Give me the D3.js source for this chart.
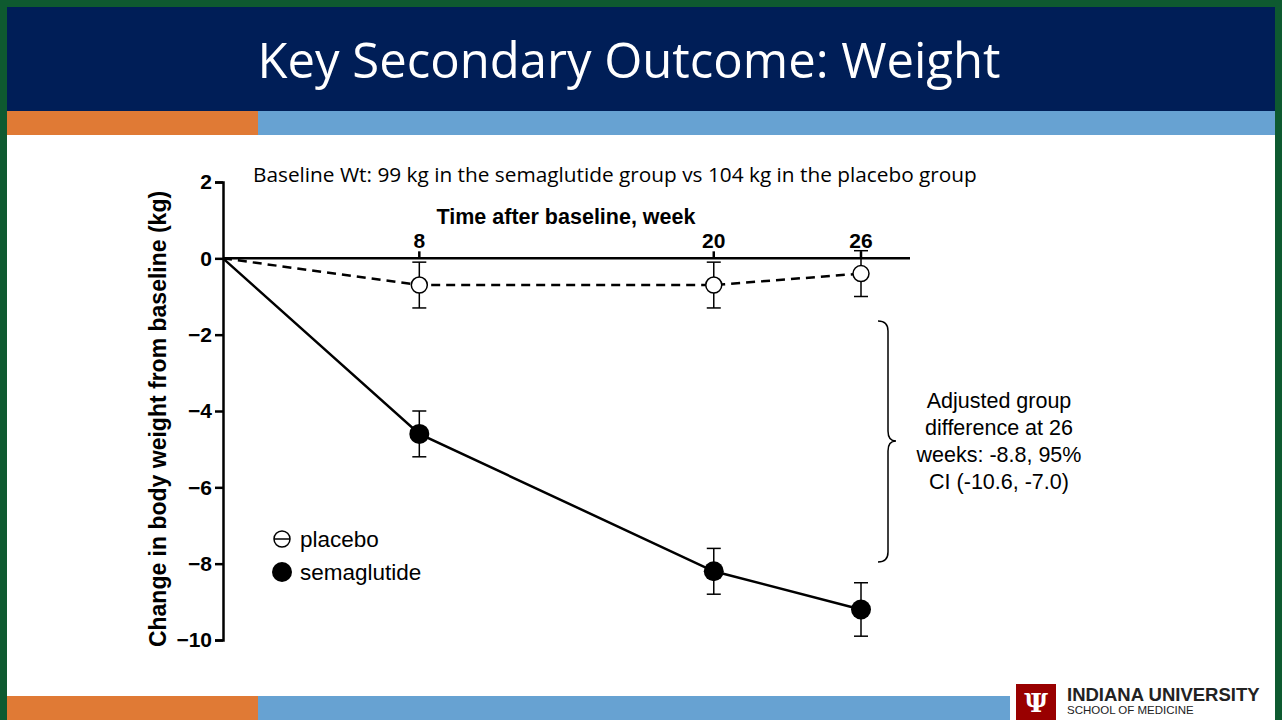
<!DOCTYPE html>
<html><head><meta charset="utf-8">
<script src="https://cdn.jsdelivr.net/npm/d3@7.9.0/dist/d3.min.js"></script>
<style>body{margin:0;background:#0e5a30}svg{display:block}</style>
</head><body><svg id="c" width="1282" height="720"></svg>
<script>
const weeks = [0, 8, 20, 26];
const placebo = [0, -0.7, -0.7, -0.4];
const placeboErr = [0, 0.6, 0.6, 0.6];
const sema = [0, -4.6, -8.2, -9.2];
const semaErr = [0, 0.6, 0.6, 0.7];
const yTicks = [2, 0, -2, -4, -6, -8, -10];
const xTicks = [8, 20, 26];

const svg = d3.select('#c');
svg.append('rect').attr('x', 7).attr('y', 7).attr('width', 1268).attr('height', 713).attr('fill', '#fff');
svg.append('rect').attr('x', 7).attr('y', 7).attr('width', 1268).attr('height', 104).attr('fill', '#001e57');
svg.append('rect').attr('x', 7).attr('y', 111).attr('width', 251).attr('height', 24).attr('fill', '#e07a35');
svg.append('rect').attr('x', 258).attr('y', 111).attr('width', 1017).attr('height', 24).attr('fill', '#67a2d2');
svg.append('rect').attr('x', 7).attr('y', 696).attr('width', 251).attr('height', 24).attr('fill', '#e07a35');
svg.append('rect').attr('x', 258).attr('y', 696).attr('width', 752).attr('height', 24).attr('fill', '#67a2d2');
svg.append('text').attr('x', 629).attr('y', 78).attr('text-anchor', 'middle')
  .attr('font-family', 'Open Sans').attr('font-size', 49).attr('fill', '#fff').text('Key Secondary Outcome: Weight');

// logo
svg.append('rect').attr('x', 1016).attr('y', 684).attr('width', 40).attr('height', 36).attr('fill', '#990000');
svg.append('text').attr('x', 1036).attr('y', 712).attr('text-anchor', 'middle').attr('font-family', 'DejaVu Serif')
  .attr('font-weight', 'bold').attr('font-size', 26).attr('fill', '#fff').text('Ψ');
svg.append('text').attr('x', 1067).attr('y', 701).attr('font-family', 'Liberation Sans').attr('font-weight', 'bold')
  .attr('font-size', 18.5).attr('fill', '#222').text('INDIANA UNIVERSITY');
svg.append('text').attr('x', 1067).attr('y', 714).attr('font-family', 'Liberation Sans')
  .attr('font-size', 11.5).attr('fill', '#222').text('SCHOOL OF MEDICINE');

const x = d3.scaleLinear().domain([0, 26]).range([223, 861]);
const y = d3.scaleLinear().domain([2, -10]).range([182, 640]);
const g = svg.append('g').attr('font-family', 'Liberation Sans');

g.append('g').attr('transform', 'translate(223,0)')
  .call(d3.axisLeft(y).tickValues(yTicks).tickSize(8).tickFormat(d3.format('d')))
  .call(a => { a.select('.domain').attr('stroke-width', 2.5); a.selectAll('line').attr('stroke-width', 2.5);
    a.selectAll('text').attr('font-size', 21).attr('font-weight', 'bold').attr('font-family', 'Liberation Sans').attr('fill', '#000'); });
g.append('line').attr('x1', 223).attr('x2', 910).attr('y1', y(0)).attr('y2', y(0)).attr('stroke', '#000').attr('stroke-width', 2.5);
xTicks.forEach(t => {
  g.append('line').attr('x1', x(t)).attr('x2', x(t)).attr('y1', y(0)).attr('y2', y(0) - 7).attr('stroke', '#000').attr('stroke-width', 2.5);
  g.append('text').attr('x', x(t)).attr('y', y(0) - 10).attr('text-anchor', 'middle').attr('font-size', 21).attr('font-weight', 'bold').text(t);
});
g.append('text').attr('x', 566).attr('y', 224).attr('text-anchor', 'middle').attr('font-size', 21.5).attr('font-weight', 'bold').text('Time after baseline, week');
g.append('text').attr('transform', 'translate(166,419) rotate(-90)').attr('text-anchor', 'middle').attr('font-size', 23).attr('font-weight', 'bold').text('Change in body weight from baseline (kg)');
g.append('text').attr('x', 253).attr('y', 182).attr('font-family', 'Open Sans').attr('font-size', 20.8).text('Baseline Wt: 99 kg in the semaglutide group vs 104 kg in the placebo group');

const line = d3.line().x((d, i) => x(weeks[i])).y(d => y(d));
g.append('path').attr('d', line(placebo)).attr('fill', 'none').attr('stroke', '#000').attr('stroke-width', 2.5).attr('stroke-dasharray', '9,6');
g.append('path').attr('d', line(sema)).attr('fill', 'none').attr('stroke', '#000').attr('stroke-width', 2.5);

function errs(vals, e) {
  vals.forEach((v, i) => {
    if (!i) return;
    const cx = x(weeks[i]);
    const lo = v - e[i], hi = v + e[i];
    g.append('line').attr('x1', cx).attr('x2', cx).attr('y1', y(lo)).attr('y2', y(hi)).attr('stroke', '#000').attr('stroke-width', 1.5);
    [lo, hi].forEach(b => g.append('line').attr('x1', cx - 7).attr('x2', cx + 7).attr('y1', y(b)).attr('y2', y(b)).attr('stroke', '#000').attr('stroke-width', 1.5));
  });
}
errs(placebo, placeboErr);
errs(sema, semaErr);
placebo.forEach((v, i) => { if (i) g.append('circle').attr('cx', x(weeks[i])).attr('cy', y(v)).attr('r', 8).attr('fill', '#fff').attr('stroke', '#000').attr('stroke-width', 1.5); });
sema.forEach((v, i) => { if (i) g.append('circle').attr('cx', x(weeks[i])).attr('cy', y(v)).attr('r', 10).attr('fill', '#000'); });

// legend
g.append('circle').attr('cx', 282).attr('cy', 539).attr('r', 8).attr('fill', '#fff').attr('stroke', '#000').attr('stroke-width', 1.5);
g.append('line').attr('x1', 274).attr('x2', 290).attr('y1', 539).attr('y2', 539).attr('stroke', '#000').attr('stroke-width', 1.5);
g.append('text').attr('x', 300).attr('y', 547).attr('font-size', 22.5).text('placebo');
g.append('circle').attr('cx', 282).attr('cy', 572).attr('r', 10).attr('fill', '#000');
g.append('text').attr('x', 300).attr('y', 580).attr('font-size', 22.5).text('semaglutide');

// bracket
g.append('path').attr('d', 'M878,321 Q888,321 888,331 L888,431 Q888,441 896,441 Q888,441 888,451 L888,552 Q888,562 878,562')
  .attr('fill', 'none').attr('stroke', '#000').attr('stroke-width', 1.5);
['Adjusted group', 'difference at 26', 'weeks: -8.8, 95%', 'CI (-10.6, -7.0)'].forEach((t, i) =>
  g.append('text').attr('x', 999).attr('y', 408 + i * 27).attr('text-anchor', 'middle').attr('font-size', 21.5).text(t));
</script></body></html>
